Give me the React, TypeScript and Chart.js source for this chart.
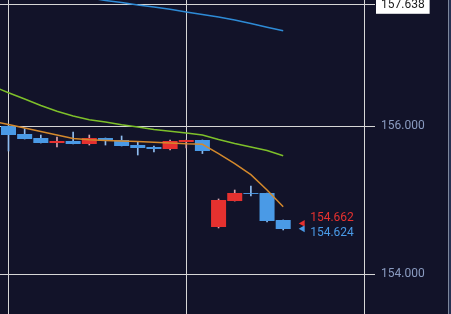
import React, { useEffect, useRef } from 'react';
import { Chart, registerables } from 'chart.js';

Chart.register(...registerables);

// ---- data ----
const candleIndex = [0, 1, 2, 3, 4, 5, 6, 7, 8, 9, 10, 11, 12, 13, 14, 15, 16, 17];
const candleOpen = [156.000, 155.892, 155.838, 155.770, 155.797, 155.757, 155.838, 155.811, 155.743, 155.716, 155.689, 155.784, 155.811, 154.635, 154.986, 155.095, 155.095, 154.730];
const candleHigh = [156.005, 155.964, 155.878, 155.851, 155.919, 155.878, 155.838, 155.865, 155.784, 155.730, 155.811, 155.811, 155.811, 155.014, 155.135, 155.189, 155.095, 154.730];
const candleLow = [155.662, 155.824, 155.770, 155.716, 155.757, 155.743, 155.743, 155.730, 155.608, 155.649, 155.676, 155.703, 155.628, 154.622, 154.986, 155.054, 154.703, 154.595];
const candleClose = [155.878, 155.824, 155.770, 155.797, 155.757, 155.838, 155.797, 155.730, 155.703, 155.689, 155.797, 155.811, 155.662, 155.000, 155.095, 155.082, 154.716, 154.608];

// moving averages (first value belongs to the bar just left of the view)
const maIndex = [-1, 0, 1, 2, 3, 4, 5, 6, 7, 8, 9, 10, 11, 12, 13, 14, 15, 16, 17];
const maBlue = [157.916, 157.886, 157.855, 157.824, 157.795, 157.764, 157.732, 157.696, 157.669, 157.635, 157.608, 157.577, 157.541, 157.507, 157.473, 157.432, 157.385, 157.334, 157.288];
const maGreen = [156.538, 156.450, 156.365, 156.278, 156.199, 156.135, 156.085, 156.054, 156.016, 155.986, 155.953, 155.928, 155.905, 155.878, 155.818, 155.764, 155.716, 155.669, 155.599];
const maOrange = [156.068, 156.020, 155.973, 155.926, 155.878, 155.831, 155.814, 155.804, 155.797, 155.791, 155.780, 155.770, 155.759, 155.753, 155.628, 155.493, 155.342, 155.135, 154.909];

const priceTicks = [154.0, 156.0, 157.638];
const currentPrice = 157.638;
const timeGridIndex = [0, 11, 22];
const lastPrices = [154.662, 154.624];

const xMin = -0.526;
const xMax = 22;
const yMin = 153.4595;
const yMax = 157.7027;

// ---- style ----
const BG = '#121329';
const UP = '#e5312f';
const DOWN = '#4a9ae6';
const UP_WICK = '#d9a3ad';
const DOWN_WICK = '#8fbdf0';
const GRID = '#d6d6d6';
const TICK_TEXT = '#8a9bc0';
const FONT = 'Roboto, "Noto Sans", sans-serif';

const VIEW_W = 448;
const VIEW_H = 314;

const isCurrent = (v: number) => Math.abs(v - currentPrice) < 1e-6;

const lastPricePlugin = {
  id: 'lastPrice',
  afterDatasetsDraw(chart: any) {
    const { ctx, scales } = chart;
    const x = scales.x;
    const y = scales.y;
    const xLast = x.getPixelForValue(candleIndex[candleIndex.length - 1]);
    const yRed = y.getPixelForValue(lastPrices[0]);
    const yBlue = y.getPixelForValue(lastPrices[1]);
    const tipX = xLast + 15.5;
    ctx.save();
    // blue triangle
    ctx.fillStyle = DOWN;
    ctx.beginPath();
    ctx.moveTo(tipX, yBlue + 1);
    ctx.lineTo(tipX + 6, yBlue - 2.5);
    ctx.lineTo(tipX + 6, yBlue + 4.5);
    ctx.closePath();
    ctx.fill();
    // red triangle
    ctx.fillStyle = UP;
    ctx.beginPath();
    ctx.moveTo(tipX, yRed - 1.5);
    ctx.lineTo(tipX + 6, yRed - 5);
    ctx.lineTo(tipX + 6, yRed + 1.5);
    ctx.closePath();
    ctx.fill();
    ctx.font = `12px ${FONT}`;
    ctx.textBaseline = 'middle';
    ctx.textAlign = 'left';
    ctx.fillStyle = UP;
    ctx.fillText(lastPrices[0].toFixed(3), xLast + 27, yRed - 7);
    ctx.fillStyle = DOWN;
    ctx.fillText(lastPrices[1].toFixed(3), xLast + 27, yBlue + 5.5);
    ctx.restore();
  },
};

function buildConfig(): any {
  const isUp = candleIndex.map((i) => candleClose[i] >= candleOpen[i]);
  const line = (vals: number[], color: string) => ({
    type: 'line',
    data: maIndex.map((i, k) => ({ x: i, y: vals[k] })),
    borderColor: color,
    borderWidth: 1.5,
    pointRadius: 0,
    tension: 0,
    order: 0,
  });
  return {
    type: 'bar',
    data: {
      datasets: [
        line(maBlue, '#2e8bd6'),
        line(maGreen, '#7ec02a'),
        line(maOrange, '#d4892c'),
        {
          type: 'bar',
          data: candleIndex.map((i) => ({ x: i, y: [candleOpen[i], candleClose[i]] })),
          backgroundColor: isUp.map((u) => (u ? UP : DOWN)),
          borderWidth: 0,
          barPercentage: 0.93,
          categoryPercentage: 1,
          grouped: false,
          order: 1,
        },
        {
          type: 'bar',
          data: candleIndex.map((i) => ({ x: i, y: [candleLow[i], candleHigh[i]] })),
          backgroundColor: isUp.map((u) => (u ? UP_WICK : DOWN_WICK)),
          borderWidth: 0,
          barThickness: 1,
          grouped: false,
          order: 2,
        },
      ],
    },
    options: {
      responsive: false,
      animation: false,
      events: [],
      layout: { padding: 0 },
      plugins: { legend: { display: false }, tooltip: { enabled: false } },
      scales: {
        x: {
          type: 'linear',
          min: xMin,
          max: xMax,
          offset: false,
          grid: { color: GRID, lineWidth: 1, drawTicks: false, offset: false },
          border: { display: false },
          ticks: { display: false },
          afterBuildTicks: (s: any) => {
            s.ticks = timeGridIndex.map((v) => ({ value: v }));
          },
        },
        y: {
          type: 'linear',
          position: 'right',
          min: yMin,
          max: yMax,
          grid: { color: GRID, lineWidth: 1, tickLength: 11, drawTicks: true },
          border: { display: true, color: GRID },
          ticks: {
            padding: 6,
            font: { family: FONT, size: 12, lineHeight: 1.5 },
            color: (c: any) => (isCurrent(c.tick.value) ? '#1b1b1b' : TICK_TEXT),
            showLabelBackdrop: (c: any) => isCurrent(c.tick.value),
            backdropColor: '#ffffff',
            backdropPadding: { top: 0, bottom: 0, left: 5, right: 5 },
            callback: (v: any) => Number(v).toFixed(3),
          },
          afterBuildTicks: (s: any) => {
            s.ticks = priceTicks.map((v) => ({ value: v }));
          },
          afterFit: (s: any) => {
            s.width = 84;
          },
        },
      },
    },
    plugins: [lastPricePlugin],
  };
}

export default function App() {
  const canvasRef = useRef<HTMLCanvasElement | null>(null);

  useEffect(() => {
    document.body.style.margin = '0';
    const canvas = canvasRef.current!;
    const make = (h: number) => {
      canvas.width = VIEW_W;
      canvas.height = h;
      canvas.style.width = VIEW_W + 'px';
      canvas.style.height = h + 'px';
      return new Chart(canvas, buildConfig());
    };
    let H = VIEW_H + 30;
    let chart = make(H);
    const pt = Math.round(chart.chartArea.top);
    const pb = Math.round(H - chart.chartArea.bottom);
    const newH = VIEW_H + pt + pb;
    if (newH !== H) {
      chart.destroy();
      H = newH;
      chart = make(H);
    }
    canvas.style.top = -pt + 'px';
    return () => chart.destroy();
  }, []);

  return (
    <div
      style={{
        position: 'relative',
        width: 451,
        height: VIEW_H,
        overflow: 'hidden',
        background: `linear-gradient(to right, ${BG} 0px, ${BG} 448px, #7d879c 448px, #7d879c 449px, #263152 449px, #263152 451px)`,
      }}
    >
      <canvas ref={canvasRef} style={{ position: 'absolute', left: 0, top: 0, display: 'block' }} />
    </div>
  );
}
